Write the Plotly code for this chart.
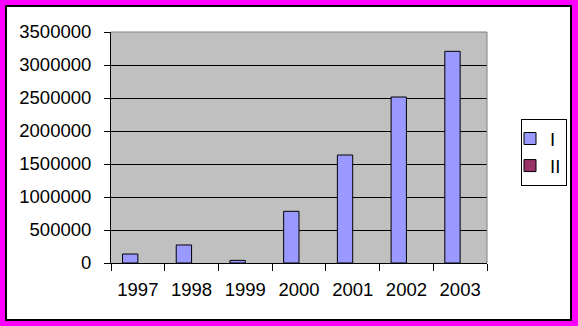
import plotly.graph_objects as go

years = ["1997", "1998", "1999", "2000", "2001", "2002", "2003"]
series_I = [136000, 273000, 40000, 783000, 1636000, 2515000, 3207000]
series_II = [None, None, None, None, None, None, None]
y_ticks = [0, 500000, 1000000, 1500000, 2000000, 2500000, 3000000, 3500000]

W, H = 578, 326
L, R, T, B = 111, 91, 32, 63
pw, ph = W - L - R, H - T - B

def px(x):
    return (x - L) / pw

def py(y):
    return (H - B - y) / ph

FONT = "Liberation Sans, Arial, sans-serif"
FS = 18.5

fig = go.Figure()
fig.add_trace(go.Bar(x=years, y=series_I, name="I",
                     marker=dict(color="#9999FF", line=dict(color="black", width=1))))
fig.add_trace(go.Bar(x=years, y=series_II, name="II",
                     marker=dict(color="#993366", line=dict(color="black", width=1))))

shapes = [
    dict(type="rect", xref="paper", yref="paper", x0=px(0), x1=px(W), y0=py(H), y1=py(0),
         line=dict(color="#FF00FF", width=12), fillcolor="rgba(0,0,0,0)", layer="below"),
    dict(type="rect", xref="paper", yref="paper", x0=px(6), x1=px(571), y0=py(320), y1=py(6),
         line=dict(color="black", width=2), fillcolor="rgba(0,0,0,0)", layer="below"),
    dict(type="line", xref="paper", yref="paper", x0=0, x1=1, y0=1, y1=1,
         line=dict(color="#808080", width=1), layer="above"),
    dict(type="line", xref="paper", yref="paper", x0=1, x1=1, y0=0, y1=1,
         line=dict(color="#808080", width=1), layer="above"),
]

fig.update_layout(
    width=W, height=H,
    margin=dict(l=L, r=R, t=T, b=B, pad=0, autoexpand=False),
    paper_bgcolor="white",
    plot_bgcolor="#C0C0C0",
    barmode="group",
    bargap=1.5 / 3.5,
    bargroupgap=0,
    font=dict(family=FONT, size=FS, color="black"),
    showlegend=True,
    legend=dict(x=px(567), y=py(119), xanchor="right", yanchor="top",
                bordercolor="black", borderwidth=1, bgcolor="white",
                font=dict(family=FONT, size=FS, color="black"),
                itemwidth=30, tracegroupgap=0, indentation=-12),
    shapes=shapes,
    xaxis=dict(type="category", showline=True, linecolor="black", linewidth=1,
               ticks="outside", ticklen=7, tickcolor="black", tickson="boundaries",
               showgrid=False, tickfont=dict(family=FONT, size=FS, color="black"),
               ticklabelstandoff=10),
    yaxis=dict(range=[0, 3500000], tickvals=y_ticks, ticktext=[str(v) for v in y_ticks],
               showline=True, linecolor="black", linewidth=1,
               ticks="outside", ticklen=6, tickcolor="black",
               showgrid=True, gridcolor="black", gridwidth=1, zeroline=False,
               tickfont=dict(family=FONT, size=FS, color="black"),
               ticklabelstandoff=9),
)

fig.write_html("out.html")
